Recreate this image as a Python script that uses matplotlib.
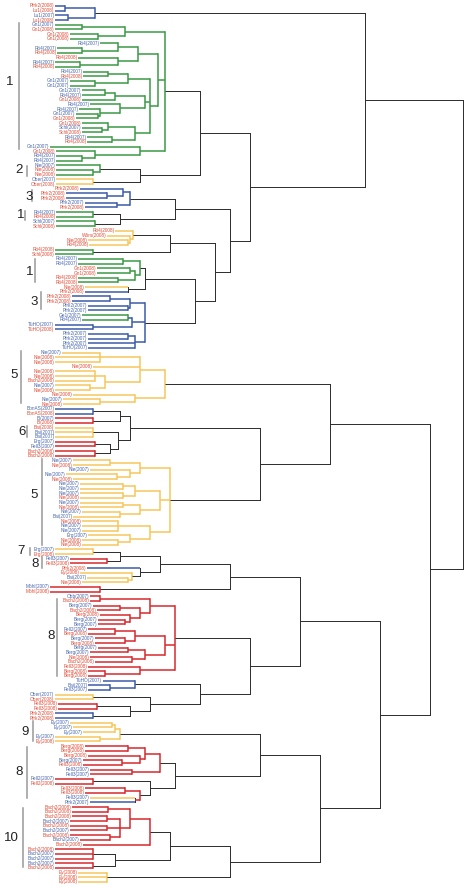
import numpy as np
import matplotlib.pyplot as plt

plt.rcParams['font.family'] = ['Liberation Sans', 'DejaVu Sans']

# leaves, top to bottom
leaf_labels = [
    'Pfrk2(2008)', 'Lu1(2008)', 'Lu1(2007)', 'Lu1(2008)', 'Gn1(2007)', 'Gn1(2008)', 'Gn1(2008)', 'Gn1(2008)',
    'Rö4(2007)', 'Rö4(2007)', 'Rö4(2008)', 'Rö4(2008)', 'Rö4(2007)', 'Rö4(2008)', 'Rö4(2007)', 'Rö4(2008)',
    'Gn1(2007)', 'Gn1(2007)', 'Gn1(2007)', 'Rö4(2007)', 'Gn1(2008)', 'Rö4(2007)', 'Rö4(2007)', 'Gn1(2007)',
    'Gn1(2008)', 'Gn1(2008)', 'Schl(2007)', 'Schl(2008)', 'Rö4(2007)', 'Rö4(2008)', 'Gn1(2007)', 'Gn1(2008)',
    'Rö4(2007)', 'Rö4(2007)', 'Nie(2007)', 'Nie(2008)', 'Nie(2008)', 'Ober(2007)', 'Ober(2008)', 'Pfrk2(2008)',
    'Pfrk2(2008)', 'Pfrk2(2008)', 'Pfrk2(2007)', 'Pfrk2(2008)', 'Rö4(2007)', 'Rö4(2008)', 'Schl(2007)', 'Schl(2008)',
    'Rö4(2008)', 'Wörs(2008)', 'Nie(2008)', 'Rö4(2008)', 'Rö4(2008)', 'Schl(2008)', 'Rö4(2007)', 'Rö4(2007)',
    'Gn1(2008)', 'Gn1(2008)', 'Rö4(2008)', 'Rö4(2008)', 'Nie(2008)', 'Pfrk2(2008)', 'Pfrk2(2008)', 'Pfrk2(2008)',
    'Pfrk2(2007)', 'Pfrk2(2007)', 'Ge1(2007)', 'Rö4(2007)', 'TüHO(2007)', 'TüHO(2008)', 'Pfrk2(2007)', 'Pfrk2(2007)',
    'Pfrk2(2007)', 'TüHO(2007)', 'Nie(2007)', 'Nie(2008)', 'Nie(2008)', 'Nie(2008)', 'Nie(2008)', 'Nie(2008)',
    'Bach2(2008)', 'Nie(2007)', 'Nie(2008)', 'Nie(2008)', 'Nie(2007)', 'Nie(2008)', 'BbnAS(2007)', 'BbnAS(2008)',
    'Bi(2007)', 'Bi(2008)', 'Bai(2008)', 'Bai(2007)', 'Bai(2007)', 'Erg(2007)', 'Fell3(2007)', 'Bach2(2008)',
    'Bach2(2008)', 'Nie(2007)', 'Nie(2008)', 'Nie(2007)', 'Nie(2007)', 'Nie(2008)', 'Nie(2007)', 'Nie(2007)',
    'Nie(2007)', 'Nie(2008)', 'Nie(2007)', 'Nie(2008)', 'Nie(2007)', 'Bai(2007)', 'Nie(2008)', 'Nie(2007)',
    'Nie(2007)', 'Erg(2007)', 'Nie(2008)', 'Nie(2008)', 'Erg(2007)', 'Erg(2008)', 'Fell3(2007)', 'Fell3(2008)',
    'Pfrk2(2008)', 'Ey(2008)', 'Bai(2007)', 'Nie(2008)', 'Möhl(2007)', 'Möhl(2008)', 'Obb(2007)', 'Bach2(2008)',
    'Berg(2007)', 'Bach2(2008)', 'Berg(2008)', 'Berg(2007)', 'Berg(2007)', 'Fell2(2007)', 'Berg(2008)', 'Berg(2007)',
    'Berg(2008)', 'Berg(2007)', 'Berg(2007)', 'Nie(2008)', 'Bach2(2008)', 'Fell3(2008)', 'Berg(2008)', 'Berg(2008)',
    'TüHO(2007)', 'Bai(2007)', 'Fell3(2007)', 'Ober(2007)', 'Ober(2008)', 'Fell3(2008)', 'Fell3(2008)', 'Pfrk2(2008)',
    'Pfrk2(2008)', 'Ey(2007)', 'Ey(2007)', 'Ey(2007)', 'Ey(2007)', 'Ey(2008)', 'Berg(2008)', 'Berg(2008)',
    'Berg(2008)', 'Berg(2007)', 'Fell3(2008)', 'Fell3(2007)', 'Fell3(2007)', 'Fell2(2007)', 'Fell2(2008)', 'Fell3(2008)',
    'Fell3(2008)', 'Fell3(2007)', 'Pfrk2(2007)', 'Bach2(2008)', 'Bach2(2008)', 'Bach2(2008)', 'Bach2(2007)', 'Bach2(2008)',
    'Bach2(2007)', 'Bach2(2008)', 'Bach2(2007)', 'Bach2(2008)', 'Bach2(2008)', 'Bach2(2007)', 'Bach2(2007)', 'Bach2(2007)',
    'Bach2(2008)', 'Ey(2008)', 'Ey(2008)', 'Ey(2008)',
]

# distance at which each leaf branch starts
leaf_dist = [
    55, 55, 55, 55, 55, 55, 70, 70, 100, 57, 57, 78, 55, 55, 83, 83,
    70, 70, 82, 82, 82, 90, 79, 76, 76, 82, 82, 82, 87, 87, 50, 56,
    56, 56, 56, 56, 56, 56, 56, 80, 66, 66, 85, 85, 56, 56, 56, 56,
    115, 107, 88, 89, 55, 55, 78, 78, 97, 97, 78, 78, 85, 85, 72, 72,
    88, 88, 82, 82, 55, 55, 88, 88, 88, 88, 62, 55, 55, 93, 55, 55,
    55, 55, 55, 73, 63, 63, 55, 55, 55, 55, 55, 55, 55, 55, 55, 55,
    55, 73, 73, 90, 66, 73, 80, 80, 80, 80, 80, 80, 82, 73, 82, 82,
    82, 88, 82, 82, 55, 55, 70, 70, 87, 80, 87, 82, 50, 50, 90, 90,
    93, 97, 100, 98, 98, 88, 88, 95, 95, 98, 90, 90, 95, 88, 88, 88,
    103, 88, 88, 55, 55, 58, 58, 55, 55, 70, 73, 83, 55, 55, 85, 85,
    88, 83, 83, 90, 90, 55, 55, 85, 85, 90, 90, 72, 72, 72, 70, 70,
    70, 70, 80, 83, 55, 55, 55, 55, 55, 78, 78, 78,
]

# leaf branch colours that differ from their parent cluster
leaf_colour_override = {60: 'y', 61: 'b', 120: 'b', 169: 'y', 170: 'b'}

# clusters: [merge distance, colour, children...]; ints are leaf indices
blue_top = [95, 'b', [65, 'b', 0, 1], [68, 'b', 2, 3]]
green_1 = [165, 'g',
           [125, 'g', [82, 'g', 4, 5], [98, 'g', 6, 7]],
           [158, 'g',
            [138, 'g', [118, 'g', 8, [82, 'g', 9, 10]], [118, 'g', 11, [80, 'g', 12, 13]]],
            [150, 'g',
             [128, 'g', [108, 'g', 14, 15], [95, 'g', 16, 17]],
             [145, 'g', [115, 'g', [105, 'g', 18, 19], 20], [120, 'g', 21, [100, 'g', 22, [98, 'g', 23, 24]]]],
             [135, 'g', [108, 'g', 25, [102, 'g', 26, 27]], [112, 'g', 28, 29]]]],
           [140, 'g', 30, [95, 'g', 31, [82, 'g', 32, 33]]]]
grp_2 = [140, 'k', [100, 'g', 34, [93, 'g', 35, 36]], [93, 'y', 37, 38]]
grp_3a = [130, 'b', [123, 'b', 39, [107, 'b', 40, 41]], [117, 'b', 42, 43]]
grp_1b = [120, 'k', [93, 'g', 44, 45], [95, 'g', 46, 47]]
grp_y1 = [133, 'y', 48, [130, 'y', 49, [128, 'y', 50, 51]]]
grp_g2 = [93, 'g', 52, 53]
grp_1c = [145, 'k', [140, 'g', [123, 'g', 54, 55], [135, 'g', [130, 'g', 56, 57], [118, 'g', 58, 59]]],
          [128, 'k', 60, 61]]
grp_3b = [145, 'b', [130, 'b', [110, 'b', 62, 63], [128, 'b', 64, 65]],
          [132, 'b', [128, 'g', 66, 67], [93, 'b', 68, 69]],
          [135, 'b', [128, 'b', 70, 71], 72, 73]]
grp_5a = [165, 'y', [140, 'y', [100, 'y', 74, 75, 76], 77, [105, 'y', [95, 'y', 78, 79, 80], [90, 'y', 81, 82]]],
          [135, 'y', 83, [100, 'y', 84, 85]]]
grp_6 = [130, 'k', [120, 'k', [93, 'b', 86, 87], [93, 'r', 88, 89]],
         [118, 'k', [93, 'y', 90, 91, 92], [110, 'k', [95, 'r', 93, 94], [95, 'r', 95, 96]]]]
grp_5b = [170, 'y', [140, 'y', [110, 'y', 97, 98], [130, 'y', 99, [117, 'y', 100, 101]]],
          [160, 'y', [135, 'y', [123, 'y', 102, 103], [123, 'y', 104, 105]],
           [140, 'y', [123, 'y', 106, 107], [120, 'y', 108, 109]]],
          [150, 'y', [118, 'y', 110, 111, 112], [130, 'y', 113, [118, 'y', 114, 115]]]]
grp_78 = [160, 'k', [120, 'k', [93, 'y', 116, 117], [107, 'r', 118, 119]],
          [140, 'k', 120, [132, 'y', 121, [128, 'y', 122, 123]]]]
grp_mohl = [100, 'r', 124, 125]
grp_8a = [175, 'r', [150, 'r', [100, 'r', 126, 127], [140, 'r', [120, 'r', 128, 129], [130, 'r', 130, [125, 'r', 131, 132]]]],
          [165, 'r', [135, 'r', [115, 'r', 133, 134], [125, 'r', 135, 136]],
           [145, 'r', [128, 'r', 137, 138], [132, 'r', 139, 140]]],
          [140, 'r', 141, [105, 'r', 142, 143]]]
grp_b3 = [135, 'b', 144, [110, 'b', 145, 146]]
grp_opf = [150, 'k', [93, 'y', 147, 148], [130, 'k', [97, 'r', 149, 150], [93, 'b', 151, 152]]]
grp_9 = [120, 'y', [115, 'y', [112, 'y', 153, 154], 155], [100, 'y', 156, 157]]
grp_8b = [175, 'k', [160, 'r', [145, 'r', [128, 'r', 158, 159], [140, 'r', 160, [122, 'r', 161, 162]]],
                     [132, 'r', 163, 164]],
          [150, 'k', [93, 'r', 165, 166], [140, 'r', [125, 'r', 167, 168], [135, 'k', 169, 170]]]]
grp_10 = [170, 'k', [150, 'r', [130, 'r', [108, 'r', 171, 172],
                                [120, 'r', [107, 'r', 173, 174], [107, 'r', 175, 176], [110, 'r', 177, 178]]], 179],
          [115, 'k', [93, 'r', 180, 181, 182], [93, 'r', 183, 184]]]
grp_ey = [107, 'y', 185, 186, 187]

upper_tree = [365, 'k', blue_top,
              [250, 'k', [200, 'k', green_1, grp_2],
               [230, 'k', [175, 'k', grp_3a, grp_1b],
                [215, 'k', [170, 'k', grp_y1, grp_g2], [195, 'k', grp_1c, grp_3b]]]]]
lower_tree = [430, 'k', [330, 'k', grp_5a, [260, 'k', grp_6, grp_5b]],
              [380, 'k', [300, 'k', [230, 'k', grp_78, grp_mohl], [250, 'k', grp_8a, [200, 'k', grp_b3, grp_opf]]],
               [320, 'k', [260, 'k', grp_9, grp_8b], [230, 'k', grp_10, grp_ey]]]]
tree = [463, 'k', upper_tree, lower_tree]

# cluster numbers on the left
group_names = ['1', '2', '3', '1', '1', '3', '5', '6', '5', '7', '8', '8', '9', '8', '10']
group_text_xy = [(10, 82), (19, 170), (29, 197), (21, 215), (30, 272), (34, 302), (14, 375), (22, 432),
                 (34, 495), (21, 551), (35, 564), (51, 636), (25, 732), (19, 772), (11, 838)]
group_bars = [(19, 23, 149), (27, 166, 176), (32, 190, 201), (25, 211, 220), (35, 259, 282), (41, 292, 309),
              (21, 351, 403), (27, 426, 437), (42, 459, 545), (30, 548, 555), (42, 557, 568), (57, 599, 676),
              (33, 721, 741), (27, 747, 798), (23, 808, 867)]

colours = {'g': '#3a9a47', 'b': '#3c5ba8', 'y': '#f6c65c', 'r': '#d8282e', 'k': '#2b2b2b'}
widths = {'g': 1.1, 'b': 1.1, 'y': 1.1, 'r': 1.1, 'k': 0.7}

fig = plt.figure(figsize=(4.7, 8.89), dpi=100)
ax = fig.add_axes([0, 0, 1, 1])
ax.set_xlim(0, 470)
ax.set_ylim(889, 0)
ax.axis('off')

leaf_y = np.linspace(6, 882, len(leaf_labels))


def draw(node, parent_col):
    if isinstance(node, int):
        c = leaf_colour_override.get(node, parent_col)
        return leaf_dist[node], leaf_y[node], c
    x, c = node[0], node[1]
    ys = []
    for kid in node[2:]:
        kx, ky, kc = draw(kid, c)
        lc = kc if isinstance(kid, int) else c
        ax.plot([kx, x], [ky, ky], color=colours[lc], lw=widths[lc], solid_capstyle='butt')
        ys.append(ky)
    ax.plot([x, x], [min(ys), max(ys)], color=colours[c], lw=widths[c], solid_capstyle='projecting')
    return x, (min(ys) + max(ys)) / 2, c


draw(tree, 'k')

for i, lab in enumerate(leaf_labels):
    col = '#e24a33' if '2008' in lab else '#4565b0'
    ax.text(leaf_dist[i] - 0.5, leaf_y[i], lab, ha='right', va='center', fontsize=3.4, color=col)

for name, (tx, ty) in zip(group_names, group_text_xy):
    ax.text(tx, ty, name, ha='center', va='center', fontsize=9.5, color='#222222')
for bx, y0, y1 in group_bars:
    ax.plot([bx, bx], [y0, y1], color='#999999', lw=1.1)

fig.savefig('out.png', dpi=100)
